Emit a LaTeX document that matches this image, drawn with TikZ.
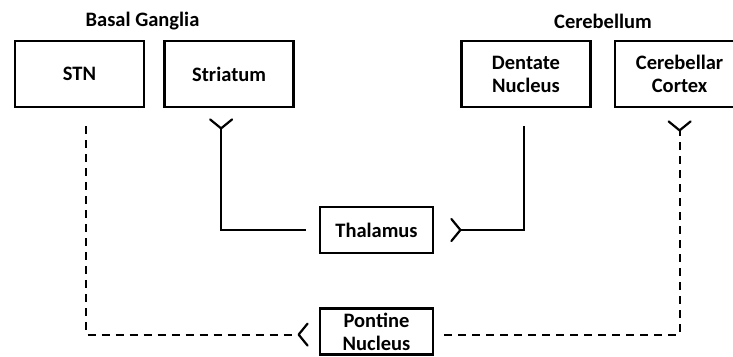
\documentclass[tikz,border=0pt]{standalone}
\usepackage{fontspec}
\setmainfont{Carlito}
\usetikzlibrary{arrows.meta, positioning}

\tikzset{
  region/.style={draw, line width=2.6pt, minimum width=129pt, minimum height=66pt, align=center, inner sep=0pt},
  relay/.style={draw, line width=2.6pt, minimum width=113pt, minimum height=46pt, align=center, inner sep=0pt},
  syn/.style={line width=2.2pt, -{Straight Barb[reversed, round, length=9pt, width=22pt]}},
  syndash/.style={syn, dash pattern=on 8pt off 6pt},
}

\begin{document}
\begin{tikzpicture}[x=1pt, y=1pt, every node/.style={font=\fontsize{20.5}{23}\selectfont\bfseries}]
    \useasboundingbox (0,0) rectangle (733,-356);
    % top row
    \node[region] (stn) at (79.5,-74) {STN};
    \node[region, right=18pt of stn] (striatum) {Striatum};
    \node[region] (dentate) at (526,-74) {Dentate\\Nucleus};
    \node[region, right=22pt of dentate] (cortex) {Cerebellar\\Cortex};
    \node (bg) at (142.5,-21) {Basal Ganglia};
    \node (cb) at (603,-21) {Cerebellum};
    % relays
    \node[relay] (thal) at (376.5,-230) {Thalamus};
    \node[relay, below=53pt of thal] (pont) {Pontine\\Nucleus};
    % connectors
    \draw[syn, shorten <=13pt, shorten >=10pt] (thal.west) -| ([xshift=-8pt]striatum.south);
    \draw[syn, shorten <=18pt, shorten >=16pt] ([xshift=-2pt]dentate.south) |- (thal.east);
    \draw[syndash, shorten <=18pt, shorten >=10pt] ([xshift=6.5pt]stn.south) |- ([yshift=-3pt]pont.west);
    \draw[syndash, shorten <=10pt, shorten >=12pt] ([yshift=-3pt]pont.east) -| (cortex.south);
\end{tikzpicture}
\end{document}
